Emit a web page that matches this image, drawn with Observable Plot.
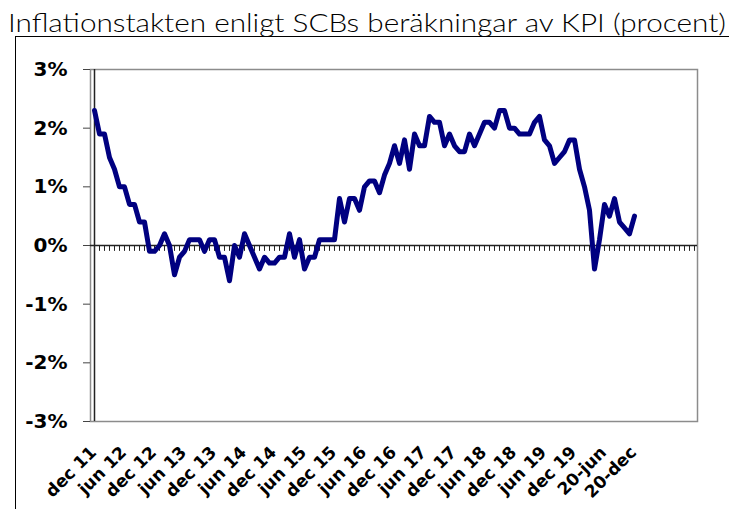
<!DOCTYPE html>
<html>
<head>
<meta charset="utf-8">
<script src="https://cdn.jsdelivr.net/npm/d3@7"></script>
<script src="https://cdn.jsdelivr.net/npm/@observablehq/plot@0.6"></script>
<style>
  html, body { margin: 0; padding: 0; background: #fff; }
  body { width: 729px; height: 509px; position: relative; overflow: hidden; }
  #title { position: absolute; left: 0; top: 0; }
  #box { position: absolute; left: 15px; top: 36px; width: 740px; height: 500px; border-left: 1px solid #000; border-top: 1px solid #000; box-sizing: border-box; }
  #chart { position: absolute; left: 0; top: 0; }
</style>
</head>
<body>
<div id="box"></div>
<svg id="title" width="729" height="44">
  <text x="8" y="32" textLength="718" lengthAdjust="spacingAndGlyphs"
        font-family="Lato, 'Open Sans', sans-serif" font-weight="300" font-size="26" fill="#000">Inflationstakten enligt SCBs beräkningar av KPI (procent)</text>
</svg>
<div id="chart"></div>
<script>
// Monthly KPI inflation, Dec 2011 – Dec 2020 (percent)
const inflation = [
  2.3,
  1.9, 1.9, 1.5, 1.3, 1.0, 1.0, 0.7, 0.7, 0.4, 0.4, -0.1, -0.1,
  0.0, 0.2, 0.0, -0.5, -0.2, -0.1, 0.1, 0.1, 0.1, -0.1, 0.1, 0.1,
  -0.2, -0.2, -0.6, 0.0, -0.2, 0.2, 0.0, -0.2, -0.4, -0.2, -0.3, -0.3,
  -0.2, -0.2, 0.2, -0.2, 0.1, -0.4, -0.2, -0.2, 0.1, 0.1, 0.1, 0.1,
  0.8, 0.4, 0.8, 0.8, 0.6, 1.0, 1.1, 1.1, 0.9, 1.2, 1.4, 1.7,
  1.4, 1.8, 1.3, 1.9, 1.7, 1.7, 2.2, 2.1, 2.1, 1.7, 1.9, 1.7,
  1.6, 1.6, 1.9, 1.7, 1.9, 2.1, 2.1, 2.0, 2.3, 2.3, 2.0, 2.0,
  1.9, 1.9, 1.9, 2.1, 2.2, 1.8, 1.7, 1.4, 1.5, 1.6, 1.8, 1.8,
  1.3, 1.0, 0.6, -0.4, 0.1, 0.7, 0.5, 0.8, 0.4, 0.3, 0.2, 0.5
];
// Category axis: Dec 2011 through Dec 2021 (axis extends one year past the data)
const axisStart = [2011, 11];
const axisMonthCount = 121;
const tickLabels = ["dec 11","jun 12","dec 12","jun 13","dec 13","jun 14","dec 14","jun 15","dec 15",
  "jun 16","dec 16","jun 17","dec 17","jun 18","dec 18","jun 19","dec 19","20-jun","20-dec"];
const yTicks = [-3, -2, -1, 0, 1, 2, 3];

const fmt = d3.utcFormat("%Y-%m");
const months = d3.range(axisMonthCount).map(i => fmt(new Date(Date.UTC(axisStart[0], axisStart[1] + i, 1))));
const data = inflation.map((v, i) => ({month: months[i], value: v}));
const tickMonths = tickLabels.map((_, i) => months[i * 6]);
const labelOf = new Map(tickMonths.map((m, i) => [m, tickLabels[i]]));

const chart = Plot.plot({
  width: 729,
  height: 509,
  marginLeft: 90,
  marginRight: 32,
  marginTop: 69,
  marginBottom: 88,
  style: {background: "transparent", fontFamily: "'DejaVu Sans', sans-serif"},
  x: {type: "point", domain: months, padding: 0, axis: null},
  y: {domain: [-3, 3], axis: null},
  marks: [
    Plot.frame({stroke: "#8c8c8c", strokeWidth: 1.5}),
    Plot.axisY({ticks: yTicks, tickFormat: d => d + "%", tickSize: 7, tickPadding: 16, label: null,
      fontSize: 20, fontWeight: "bold", fill: "#000", stroke: "#444"}),
    Plot.ruleX([months[0]], {stroke: "#222", strokeWidth: 1.5}),
    Plot.ruleX(months, {x: d => d, y1: 0, y2: -0.1, stroke: "#222", strokeWidth: 1}),
    Plot.ruleY([0], {stroke: "#222", strokeWidth: 1.3}),
    Plot.line(data, {x: "month", y: "value", stroke: "#000080", strokeWidth: 5,
      strokeLinejoin: "round", strokeLinecap: "round"}),
    Plot.axisX({ticks: tickMonths, tickFormat: m => labelOf.get(m), tickSize: 0, tickPadding: 28, label: null,
      tickRotate: -45, fontSize: 17, fontWeight: "bold", fill: "#000", dx: -1})
  ]
});
document.getElementById("chart").appendChild(chart);
</script>
</body>
</html>
